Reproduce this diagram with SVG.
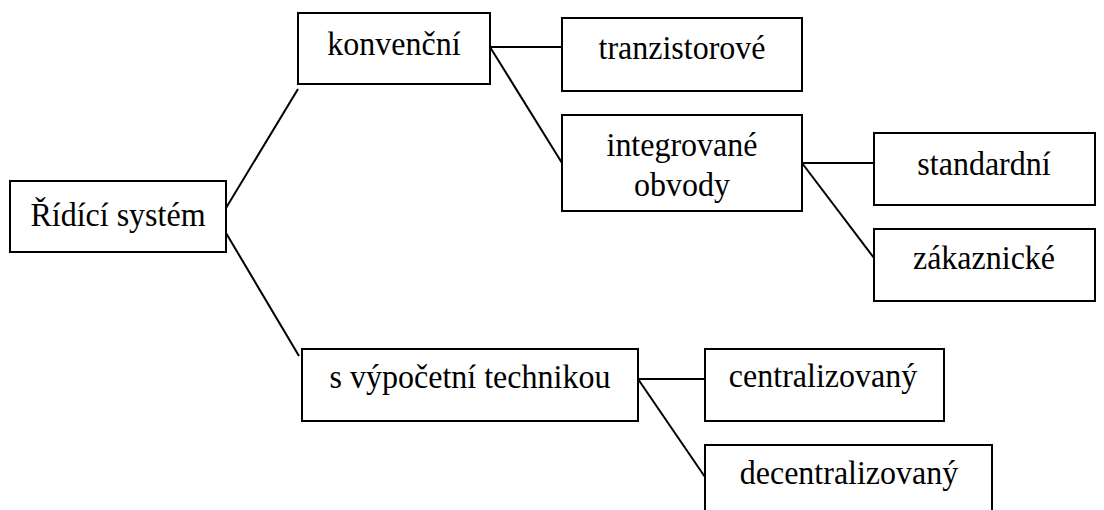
<svg xmlns="http://www.w3.org/2000/svg" width="1104" height="510" viewBox="0 0 1104 510">
<style>
rect{fill:#fff;stroke:#000;stroke-width:2}
line{stroke:#000;stroke-width:2}
text{font-size:32px;fill:#000;text-anchor:middle}
</style>
<rect x="0" y="0" width="1104" height="510" style="stroke:none"/>
<g id="connectors">
<line x1="226" y1="208" x2="298" y2="89"/>
<line x1="226" y1="233" x2="299" y2="356"/>
<line x1="490" y1="47" x2="562" y2="47"/>
<line x1="490" y1="47" x2="562" y2="163"/>
<line x1="802" y1="163" x2="874" y2="163"/>
<line x1="802" y1="163" x2="874" y2="258"/>
<line x1="638" y1="379" x2="705" y2="379"/>
<line x1="638" y1="379" x2="705" y2="477"/>
</g>
<g font-family="'Liberation Serif', 'Times New Roman', 'DejaVu Serif', serif">
<g id="ridici"><rect x="10" y="181" width="216" height="71"/><text transform="translate(118 226) scale(1 1.06)">Řídící systém</text></g>
<g id="konvencni"><rect x="298" y="13" width="192" height="71"/><text transform="translate(394 55) scale(1 1.06)">konvenční</text></g>
<g id="tranzistorove"><rect x="562" y="18" width="240" height="73"/><text transform="translate(682 59) scale(1 1.06)">tranzistorové</text></g>
<g id="integrovane"><rect x="562" y="115" width="240" height="96"/><text transform="translate(682 156) scale(1 1.06)">integrované</text><text transform="translate(682 196) scale(1 1.06)">obvody</text></g>
<g id="standardni"><rect x="874" y="133" width="221" height="72"/><text transform="translate(984 175) scale(1 1.06)">standardní</text></g>
<g id="zakaznicke"><rect x="874" y="229" width="221" height="72"/><text transform="translate(984 269) scale(1 1.06)">zákaznické</text></g>
<g id="vypocetni"><rect x="302" y="349" width="336" height="72"/><text transform="translate(470 388) scale(1 1.06)">s výpočetní technikou</text></g>
<g id="centralizovany"><rect x="705" y="349" width="239" height="72"/><text transform="translate(823 387) scale(1 1.06)">centralizovaný</text></g>
<g id="decentralizovany"><rect x="705" y="445" width="287" height="80"/><text transform="translate(849 484) scale(1 1.06)">decentralizovaný</text></g>
</g>
</svg>
